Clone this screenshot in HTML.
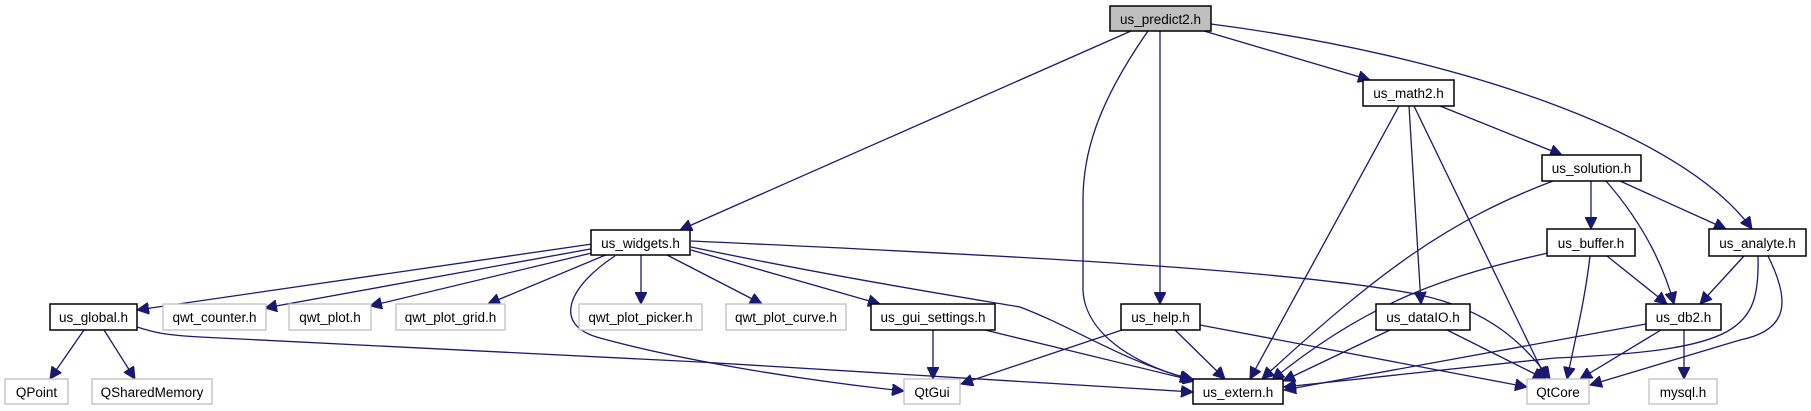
<!DOCTYPE html>
<html><head><meta charset="utf-8"><style>
html,body{margin:0;padding:0;background:#fff;}
svg{display:block;}
text{font-family:"Liberation Sans",Arial,sans-serif;font-size:13.5px;text-anchor:middle;fill:#000;}
.e{fill:none;stroke:#191970;stroke-width:1.3;}
.b{fill:#fff;stroke:#000;stroke-width:1.5;}
.g{fill:#fff;stroke:#bfbfbf;stroke-width:1.3;}
</style></head><body>
<svg width="1811" height="411" viewBox="0 0 1811 411" xmlns="http://www.w3.org/2000/svg">
<defs><marker id="a" markerUnits="userSpaceOnUse" markerWidth="14" markerHeight="12" refX="12" refY="6" orient="auto"><path d="M0,0 L12,6 L0,12 Z" fill="#191970" stroke="#191970"/></marker></defs>
<g marker-end="url(#a)">
<path class="e" d="M1131,31 L680,230"/>
<path class="e" d="M1148,31 C1100,100 1083,150 1083,200 L1083,290 C1085,340 1150,370 1192,379"/>
<path class="e" d="M1160,31 L1160,304"/>
<path class="e" d="M1204,31 L1370,80"/>
<path class="e" d="M1211,24 C1450,55 1680,130 1752,229"/>
<path class="e" d="M1399,106 L1250,379"/>
<path class="e" d="M1409,106 L1421,304"/>
<path class="e" d="M1414,106 L1546,379"/>
<path class="e" d="M1440,106 L1562,155"/>
<path class="e" d="M1553,181 C1450,220 1380,270 1262,379"/>
<path class="e" d="M1591,181 L1591,229"/>
<path class="e" d="M1606,181 C1640,220 1662,260 1674,304"/>
<path class="e" d="M1620,181 L1726,229"/>
<path class="e" d="M1548,253 C1450,275 1370,300 1272,380"/>
<path class="e" d="M1590,256 C1585,300 1575,340 1567,379"/>
<path class="e" d="M1607,256 L1667,304"/>
<path class="e" d="M1744,256 L1700,304"/>
<path class="e" d="M1758,256 C1760,330 1740,350 1555,358 L1284,387"/>
<path class="e" d="M1768,256 C1790,300 1790,330 1740,340 L1590,385"/>
<path class="e" d="M1646,324 L1284,390"/>
<path class="e" d="M1661,330 L1580,379"/>
<path class="e" d="M1684,330 L1684,379"/>
<path class="e" d="M1390,330 L1283,381"/>
<path class="e" d="M1447,330 L1545,379"/>
<path class="e" d="M1122,330 L961,384"/>
<path class="e" d="M1175,330 L1225,379"/>
<path class="e" d="M1200,325 L1527,387"/>
<path class="e" d="M933,330 L933,379"/>
<path class="e" d="M985,330 L1195,381"/>
<path class="e" d="M592,244 L137,310"/>
<path class="e" d="M596,248 L265,308"/>
<path class="e" d="M600,251 L370,306"/>
<path class="e" d="M608,254 L488,304"/>
<path class="e" d="M641,255 L641,304"/>
<path class="e" d="M667,255 L762,304"/>
<path class="e" d="M691,250 L880,304"/>
<path class="e" d="M691,247 C850,280 980,300 1020,307 C1080,330 1120,360 1193,380"/>
<path class="e" d="M691,241 C1000,255 1300,270 1420,295 C1490,310 1525,345 1550,379"/>
<path class="e" d="M615,256 C570,285 550,325 600,338 C680,360 800,380 904,391"/>
<path class="e" d="M84,330 L50,379"/>
<path class="e" d="M104,330 L135,379"/>
<path class="e" d="M137,327 C150,331 160,335 200,337 L700,362 L1193,392"/>
</g>
<rect x="1110" y="6" width="101" height="25" fill="#bfbfbf" stroke="#000" stroke-width="1.5"/><text x="1160.5" y="24">us_predict2.h</text>
<rect class="b" x="1363" y="80" width="91" height="26"/><text x="1408.5" y="98">us_math2.h</text>
<rect class="b" x="1542" y="155" width="99" height="26"/><text x="1591.5" y="173">us_solution.h</text>
<rect class="b" x="591" y="230" width="99" height="25"/><text x="640.5" y="248">us_widgets.h</text>
<rect class="b" x="1547" y="229" width="88" height="27"/><text x="1591" y="248">us_buffer.h</text>
<rect class="b" x="1709" y="229" width="97" height="27"/><text x="1757.5" y="248">us_analyte.h</text>
<rect class="b" x="50" y="304" width="87" height="26"/><text x="93.5" y="322">us_global.h</text>
<rect class="g" x="163" y="304" width="103" height="26"/><text x="214.5" y="322">qwt_counter.h</text>
<rect class="g" x="289" y="304" width="82" height="26"/><text x="330" y="322">qwt_plot.h</text>
<rect class="g" x="396" y="304" width="109" height="26"/><text x="450.5" y="322">qwt_plot_grid.h</text>
<rect class="g" x="579" y="304" width="123" height="26"/><text x="640.5" y="322">qwt_plot_picker.h</text>
<rect class="g" x="726" y="304" width="120" height="26"/><text x="786" y="322">qwt_plot_curve.h</text>
<rect class="b" x="871" y="304" width="124" height="26"/><text x="933" y="322">us_gui_settings.h</text>
<rect class="b" x="1121" y="304" width="79" height="26"/><text x="1160.5" y="322">us_help.h</text>
<rect class="b" x="1376" y="304" width="94" height="26"/><text x="1423" y="322">us_dataIO.h</text>
<rect class="b" x="1646" y="304" width="75" height="26"/><text x="1683.5" y="322">us_db2.h</text>
<rect class="g" x="5" y="379" width="63" height="25"/><text x="36.5" y="397">QPoint</text>
<rect class="g" x="92" y="379" width="120" height="25"/><text x="152" y="397">QSharedMemory</text>
<rect class="g" x="904" y="379" width="56" height="25"/><text x="932" y="397">QtGui</text>
<rect class="b" x="1193" y="379" width="90" height="25"/><text x="1238" y="397">us_extern.h</text>
<rect class="g" x="1527" y="379" width="62" height="25"/><text x="1558" y="397">QtCore</text>
<rect class="g" x="1649" y="379" width="68" height="25"/><text x="1683" y="397">mysql.h</text>
</svg>
</body></html>
